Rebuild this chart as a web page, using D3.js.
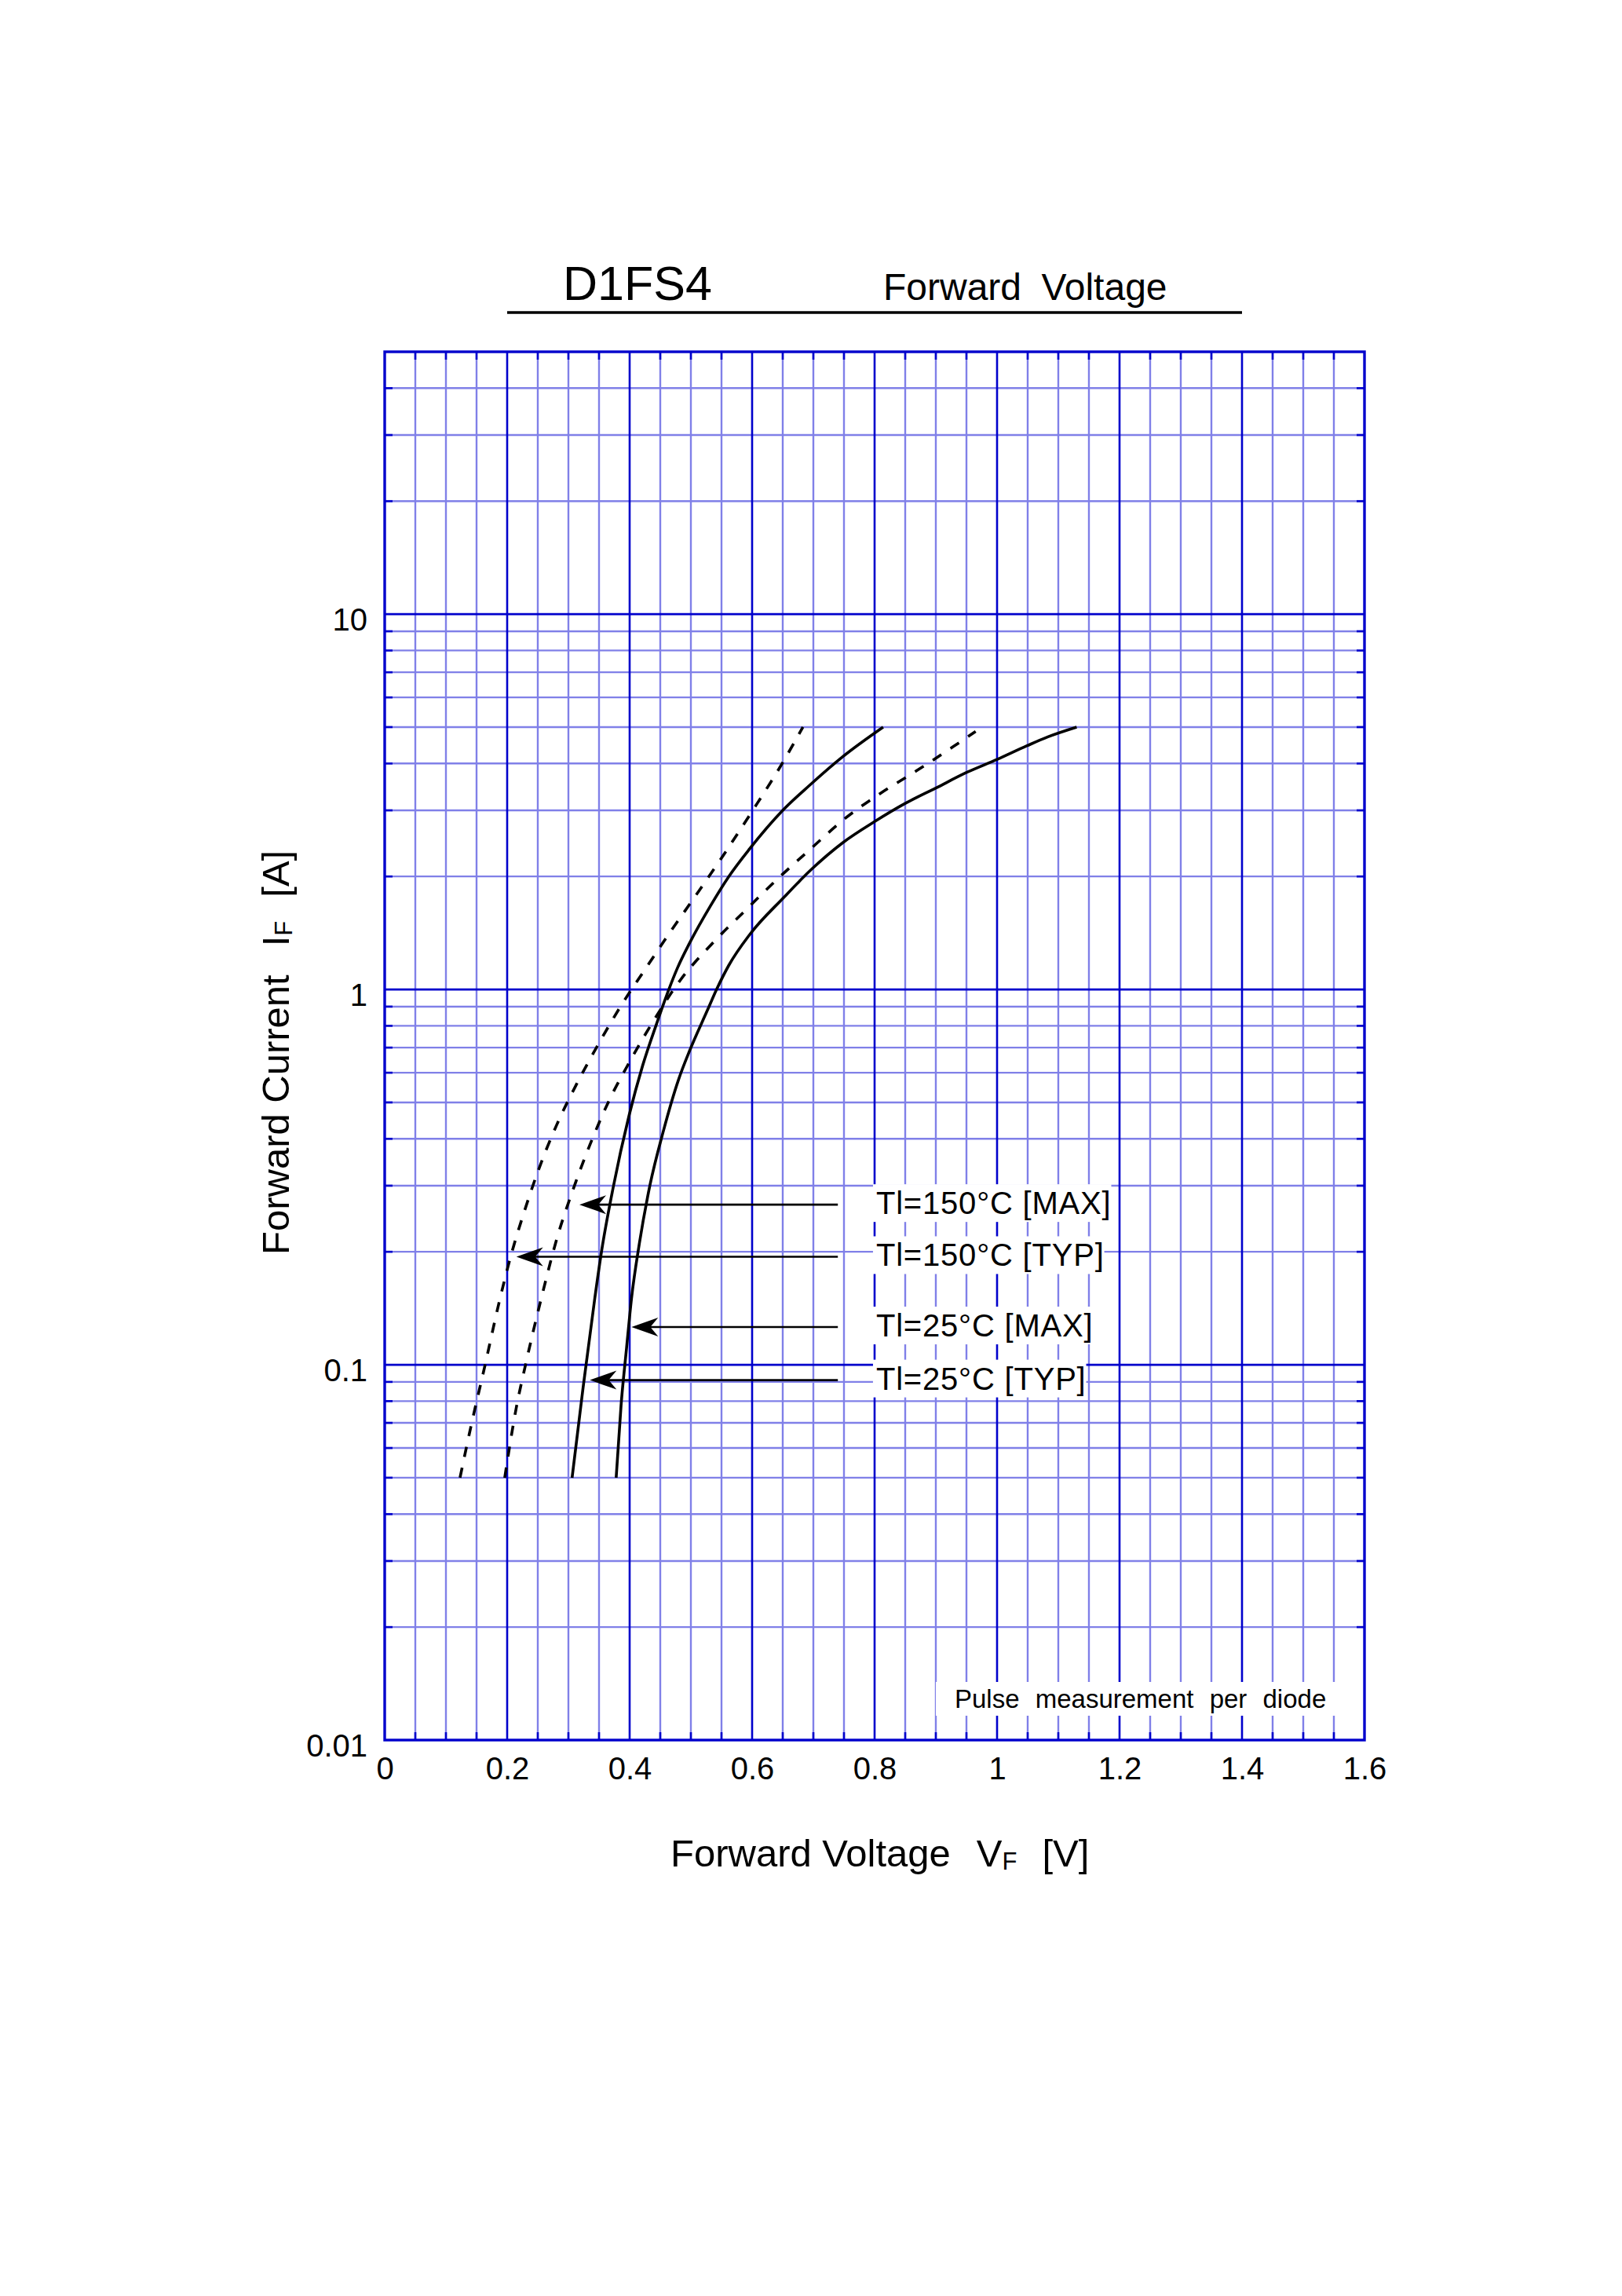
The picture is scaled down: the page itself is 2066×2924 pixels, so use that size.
<!DOCTYPE html>
<html>
<head>
<meta charset="utf-8">
<script src="https://cdn.jsdelivr.net/npm/d3@7"></script>
<style>
  body { margin: 0; background: #fff; }
  text { font-family: "Liberation Sans", Arial, sans-serif; fill: #000; }
</style>
</head>
<body>
<script>
// curves: [VF (V), IF (A)]
const tl150Typ = [[0.123,0.05],[0.140,0.0675],[0.164,0.1],[0.187,0.147],[0.206,0.195],[0.228,0.256],[0.251,0.33],[0.281,0.436],[0.313,0.558],[0.348,0.71],[0.385,0.9],[0.425,1.13],[0.466,1.42],[0.508,1.78],[0.550,2.24],[0.601,3.0],[0.643,3.85],[0.683,5.0]];
const tl150Max = [[0.196,0.05],[0.215,0.077],[0.230,0.1],[0.256,0.151],[0.283,0.222],[0.307,0.291],[0.335,0.385],[0.365,0.5],[0.401,0.646],[0.440,0.83],[0.483,1.06],[0.532,1.31],[0.590,1.63],[0.643,1.98],[0.697,2.38],[0.750,2.84],[0.807,3.31],[0.868,3.82],[0.927,4.42],[0.965,4.87]];
const tl25Typ = [[0.306,0.05],[0.324,0.087],[0.343,0.15],[0.354,0.2],[0.373,0.296],[0.399,0.461],[0.421,0.625],[0.444,0.81],[0.464,1.0],[0.478,1.14],[0.498,1.33],[0.532,1.67],[0.562,2.0],[0.596,2.37],[0.650,3.0],[0.694,3.5],[0.748,4.17],[0.814,5.0]];
const tl25Max = [[0.378,0.05],[0.386,0.078],[0.395,0.111],[0.403,0.150],[0.416,0.211],[0.433,0.300],[0.455,0.419],[0.480,0.576],[0.498,0.687],[0.527,0.88],[0.542,1.0],[0.562,1.16],[0.596,1.40],[0.652,1.76],[0.697,2.09],[0.748,2.46],[0.800,2.80],[0.850,3.13],[0.900,3.44],[0.951,3.79],[1.0,4.10],[1.049,4.46],[1.083,4.71],[1.130,5.0]];

const curveLabels = ["Tl=150°C [MAX]", "Tl=150°C [TYP]", "Tl=25°C [MAX]", "Tl=25°C [TYP]"];
const arrowTipV = [0.318, 0.215, 0.403, 0.335];
const arrowTipI = [0.267, 0.194, 0.126, 0.091];

const xTickValues = [0, 0.2, 0.4, 0.6, 0.8, 1, 1.2, 1.4, 1.6];
const xTickLabels = ["0", "0.2", "0.4", "0.6", "0.8", "1", "1.2", "1.4", "1.6"];
const yTickValues = [0.01, 0.1, 1, 10];
const yTickLabels = ["0.01", "0.1", "1", "10"];

const W = 2066, H = 2924;
const DARK = "#0000cc", LIGHT = "#8080e8";
const FONT = '"Liberation Sans", Arial, sans-serif';

const x = d3.scaleLinear().domain([0, 1.6]).range([490, 1738]);
const y = d3.scaleLog().domain([0.01, 50]).range([2216, 448]);
const [x0, x1] = x.range(), [y0, y1] = y.range();

const svg = d3.select('body').append('svg').attr('width', W).attr('height', H);
svg.append('rect').attr('width', W).attr('height', H).attr('fill', '#fff');

const grid = svg.append('g');
const boxes = svg.append('g');
const texts = svg.append('g');
const curveG = svg.append('g');
const arrows = svg.append('g');

// title
svg.append('text').attr('x', 717).attr('y', 382).attr('font-size', 61).text('D1FS4');
svg.append('text').attr('x', 1125).attr('y', 382).attr('font-size', 48).attr('word-spacing', 12).text('Forward Voltage');
svg.append('line').attr('x1', 646).attr('x2', 1582).attr('y1', 398).attr('y2', 398).attr('stroke', '#000').attr('stroke-width', 3.4);

// grid
const vLines = d3.range(1, 32).map(i => ({ v: +(i * 0.05).toFixed(2), major: i % 4 === 0 }));
const hLines = [];
[0.01, 0.1, 1, 10].forEach(d => {
    for (let k = 1; k <= 9; k++) {
        const v = +(k * d).toPrecision(3);
        if (v > 0.01 && v < 50) hLines.push({ v, major: k === 1 });
    }
});

grid.selectAll('.vl').data(vLines.filter(d => !d.major)).enter().append('line')
    .attr('x1', d => x(d.v)).attr('x2', d => x(d.v)).attr('y1', y1).attr('y2', y0)
    .attr('stroke', LIGHT).attr('stroke-width', 2.4);
grid.selectAll('.hl').data(hLines.filter(d => !d.major)).enter().append('line')
    .attr('y1', d => y(d.v)).attr('y2', d => y(d.v)).attr('x1', x0).attr('x2', x1)
    .attr('stroke', LIGHT).attr('stroke-width', 2.4);
grid.selectAll('.vm').data(vLines.filter(d => d.major)).enter().append('line')
    .attr('x1', d => x(d.v)).attr('x2', d => x(d.v)).attr('y1', y1).attr('y2', y0)
    .attr('stroke', DARK).attr('stroke-width', 2.6);
grid.selectAll('.hm').data(hLines.filter(d => d.major)).enter().append('line')
    .attr('y1', d => y(d.v)).attr('y2', d => y(d.v)).attr('x1', x0).attr('x2', x1)
    .attr('stroke', DARK).attr('stroke-width', 2.8);

// short dark ticks on the frame
const stub = 10;
vLines.filter(d => !d.major).forEach(d => {
    grid.append('line').attr('x1', x(d.v)).attr('x2', x(d.v)).attr('y1', y1).attr('y2', y1 + stub).attr('stroke', DARK).attr('stroke-width', 2.6);
    grid.append('line').attr('x1', x(d.v)).attr('x2', x(d.v)).attr('y1', y0).attr('y2', y0 - stub).attr('stroke', DARK).attr('stroke-width', 2.6);
});
hLines.filter(d => !d.major).forEach(d => {
    grid.append('line').attr('y1', y(d.v)).attr('y2', y(d.v)).attr('x1', x0).attr('x2', x0 + stub).attr('stroke', DARK).attr('stroke-width', 2.6);
    grid.append('line').attr('y1', y(d.v)).attr('y2', y(d.v)).attr('x1', x1).attr('x2', x1 - stub).attr('stroke', DARK).attr('stroke-width', 2.6);
});

grid.append('rect').attr('x', x0).attr('y', y1).attr('width', x1 - x0).attr('height', y0 - y1)
    .attr('fill', 'none').attr('stroke', DARK).attr('stroke-width', 3.4);

// axis labels
const xAxis = svg.append('g').attr('transform', `translate(0,${y0})`)
    .call(d3.axisBottom(x).tickValues(xTickValues).tickSize(0).tickPadding(22).tickFormat((d, i) => xTickLabels[i]));
xAxis.select('.domain').remove();
xAxis.selectAll('text').attr('font-size', 40).attr('font-family', FONT).attr('fill', '#000');

const yAxis = svg.append('g').attr('transform', `translate(${x0},0)`)
    .call(d3.axisLeft(y).tickValues(yTickValues).tickSize(0).tickPadding(22).tickFormat((d, i) => yTickLabels[i]));
yAxis.select('.domain').remove();
yAxis.selectAll('text').attr('font-size', 40).attr('font-family', FONT).attr('fill', '#000').attr('dy', '0.5em');

// annotation texts with white boxes behind
const pulse = texts.append('text').attr('x', 1216).attr('y', 2175).attr('font-size', 33).attr('word-spacing', 11).text('Pulse measurement per diode');
let b = pulse.node().getBBox();
boxes.append('rect').attr('x', b.x - 24).attr('y', b.y - 3).attr('width', b.width + 40).attr('height', b.height + 6).attr('fill', '#fff');

curveLabels.forEach((t, i) => {
    const lt = texts.append('text').attr('x', x(0.8025)).attr('y', y(arrowTipI[i]) + 12)
        .attr('font-size', 40).attr('letter-spacing', 0.8).text(t);
    const bb = lt.node().getBBox();
    boxes.append('rect').attr('x', bb.x - 4).attr('y', bb.y - 2).attr('width', bb.width + 4).attr('height', bb.height + 4).attr('fill', '#fff');
});

// curves
const line = d3.line().x(d => x(d[0])).y(d => y(d[1])).curve(d3.curveMonotoneX);
const curves = [
    { data: tl150Typ, dash: '13,14' },
    { data: tl150Max, dash: '13,14' },
    { data: tl25Typ, dash: null },
    { data: tl25Max, dash: null }
];
curveG.selectAll('path').data(curves).enter().append('path')
    .attr('d', d => line(d.data)).attr('fill', 'none').attr('stroke', '#000')
    .attr('stroke-width', 3.6).attr('stroke-dasharray', d => d.dash);

// arrows
arrowTipI.forEach((iv, i) => {
    const tx = x(arrowTipV[i]), ty = y(iv);
    arrows.append('line').attr('x1', tx + 20).attr('x2', x(0.74)).attr('y1', ty).attr('y2', ty)
        .attr('stroke', '#000').attr('stroke-width', 2.6);
    arrows.append('path')
        .attr('d', `M${tx},${ty} L${tx + 34},${ty - 12} L${tx + 24},${ty} L${tx + 34},${ty + 12} Z`)
        .attr('fill', '#000');
});

// axis titles
const xt = svg.append('text').attr('x', 854).attr('y', 2377).attr('font-size', 49);
xt.append('tspan').text('Forward Voltage');
xt.append('tspan').attr('dx', 33).text('V');
xt.append('tspan').attr('font-size', 31).attr('dy', 4).text('F');
xt.append('tspan').attr('dx', 32).attr('dy', -4).text('[V]');

const yt = svg.append('text').attr('transform', 'translate(368,1598) rotate(-90)').attr('font-size', 49);
yt.append('tspan').text('Forward Current');
yt.append('tspan').attr('dx', 36).text('I');
yt.append('tspan').attr('font-size', 31).attr('dy', 4).text('F');
yt.append('tspan').attr('dx', 30).attr('dy', -4).text('[A]');
</script>
</body>
</html>
